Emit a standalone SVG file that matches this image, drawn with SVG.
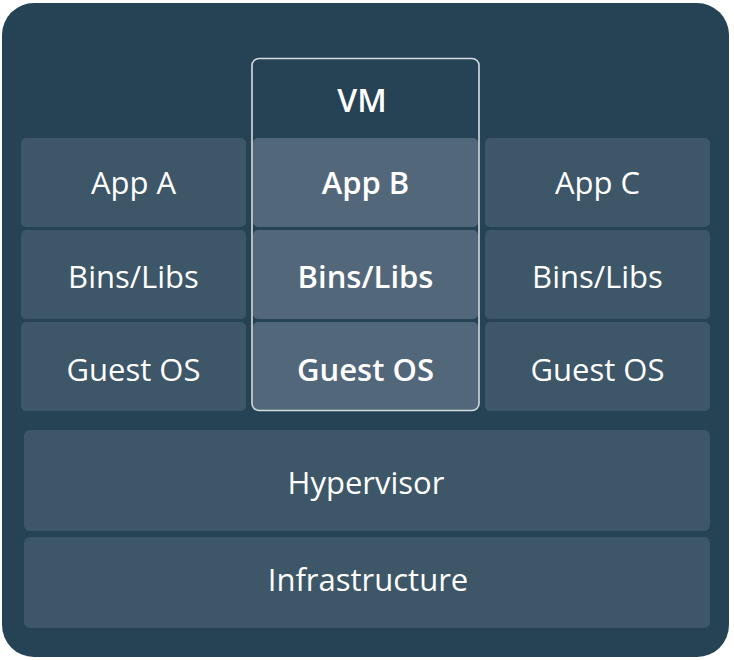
<svg xmlns="http://www.w3.org/2000/svg" width="734" height="660" viewBox="0 0 734 660">
<style>
.box{fill:#3d5668}
.vmbox{fill:#52687a}
text{font-family:"Open Sans","Noto Sans","Liberation Sans",sans-serif;fill:#ffffff;text-anchor:middle;font-size:31px}
.b{font-weight:600}
</style>
<rect x="0" y="0" width="734" height="660" fill="#ffffff"/>
<rect id="bg" x="2" y="3" width="727" height="654" rx="32" fill="#264356"/>
<g id="appA"><rect class="box" x="21" y="138" width="225" height="89" rx="5"/><text x="133.5" y="193.5">App A</text></g>
<g id="binsA"><rect class="box" x="21" y="230" width="225" height="89" rx="5"/><text x="133.5" y="288">Bins/Libs</text></g>
<g id="guestA"><rect class="box" x="21" y="322" width="225" height="89" rx="5"/><text x="133.5" y="381">Guest OS</text></g>
<g id="appC"><rect class="box" x="485" y="138" width="225" height="89" rx="5"/><text x="597.5" y="193.5">App C</text></g>
<g id="binsC"><rect class="box" x="485" y="230" width="225" height="89" rx="5"/><text x="597.5" y="288">Bins/Libs</text></g>
<g id="guestC"><rect class="box" x="485" y="322" width="225" height="89" rx="5"/><text x="597.5" y="381">Guest OS</text></g>
<g id="vm">
<rect class="vmbox" x="253" y="138" width="225" height="89" rx="5"/>
<rect class="vmbox" x="253" y="230" width="225" height="89" rx="5"/>
<rect class="vmbox" x="253" y="322" width="225" height="88" rx="5"/>
<rect x="252" y="58.5" width="227" height="352" rx="7" fill="none" stroke="#d4dce0" stroke-width="1.6"/>
<text class="b" x="362" y="111.5" style="font-size:32px">VM</text>
<text class="b" x="365.5" y="194">App B</text>
<text class="b" x="365.5" y="288">Bins/Libs</text>
<text class="b" x="365.5" y="380.5">Guest OS</text>
</g>
<g id="hypervisor"><rect class="box" x="24" y="430" width="686" height="101" rx="6"/><text x="366" y="493.5">Hypervisor</text></g>
<g id="infrastructure"><rect class="box" x="24" y="537" width="686" height="91" rx="6"/><text x="368" y="591">Infrastructure</text></g>
<g id="connectors"></g>
</svg>
